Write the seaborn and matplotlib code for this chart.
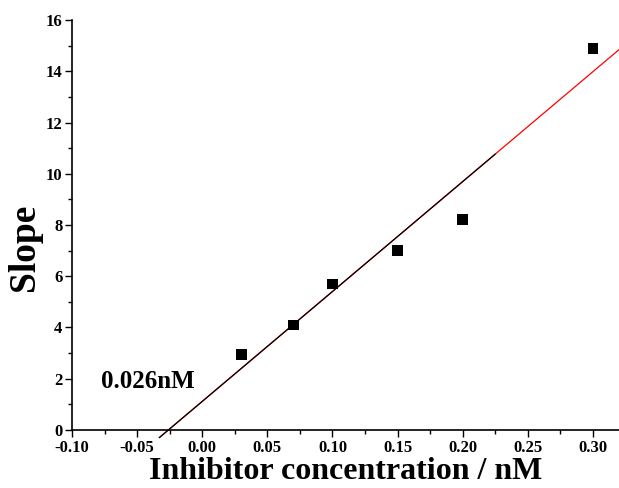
import numpy as np
import pandas as pd
import matplotlib
matplotlib.use('Agg')
import matplotlib.pyplot as plt
import seaborn as sns
from matplotlib.ticker import MultipleLocator, FormatStrFormatter

# ==================== 数据 ====================
conc = [0.03, 0.07, 0.10, 0.15, 0.20, 0.30]
slope = [2.95, 4.1, 5.7, 7.0, 8.2, 14.9]

# 线性拟合参数
fit_k = 42.9
fit_b = 1.115
red_x = [-0.033, 0.32]
black_x = [-0.033, 0.225]
x_intercept_label = '0.026nM'

sns.set_theme(style='ticks')
plt.rcParams['font.family'] = ['Liberation Serif', 'DejaVu Serif']
plt.rcParams['font.weight'] = 'bold'
plt.rcParams['text.color'] = 'black'
plt.rcParams['axes.labelcolor'] = 'black'
plt.rcParams['xtick.color'] = 'black'
plt.rcParams['ytick.color'] = 'black'

df = pd.DataFrame({'conc': conc, 'slope': slope})

fig = plt.figure(figsize=(6.19, 4.88), dpi=100)
ax = fig.add_axes([0.1163, 0.1189, 0.8837, 0.8401])

sns.scatterplot(data=df, x='conc', y='slope', marker='s', s=60,
                color='black', edgecolor='none', ax=ax, zorder=5)

rx = np.array(red_x)
ax.plot(rx, fit_k * rx + fit_b, color='red', lw=0.9, clip_on=False)
bx = np.array(black_x)
ax.plot(bx, fit_k * bx + fit_b, color='black', lw=0.9, clip_on=False)

ax.text(-0.078, 1.9, x_intercept_label, fontsize=18, fontweight='bold',
        ha='left', va='center', color='black')

ax.set_xlim(-0.10, 0.32)
ax.set_ylim(0, 16)
ax.xaxis.set_major_locator(MultipleLocator(0.05))
ax.xaxis.set_minor_locator(MultipleLocator(0.025))
ax.yaxis.set_major_locator(MultipleLocator(2))
ax.yaxis.set_minor_locator(MultipleLocator(1))
ax.xaxis.set_major_formatter(FormatStrFormatter('%.2f'))

ax.tick_params(which='major', direction='out', length=5, width=1, labelsize=12, pad=2)
ax.tick_params(which='minor', direction='out', length=3, width=1)
for lab in ax.get_xticklabels() + ax.get_yticklabels():
    lab.set_fontweight('bold')

sns.despine(ax=ax)
for sp in ['left', 'bottom']:
    ax.spines[sp].set_linewidth(1.2)
    ax.spines[sp].set_color('black')

ax.set_xlabel('Inhibitor concentration / nM', fontsize=23, fontweight='bold', labelpad=1)
ax.set_ylabel('Slope', fontsize=27, fontweight='bold')
ax.yaxis.set_label_coords(-0.055, 0.445)

fig.savefig('out.png', dpi=100)
